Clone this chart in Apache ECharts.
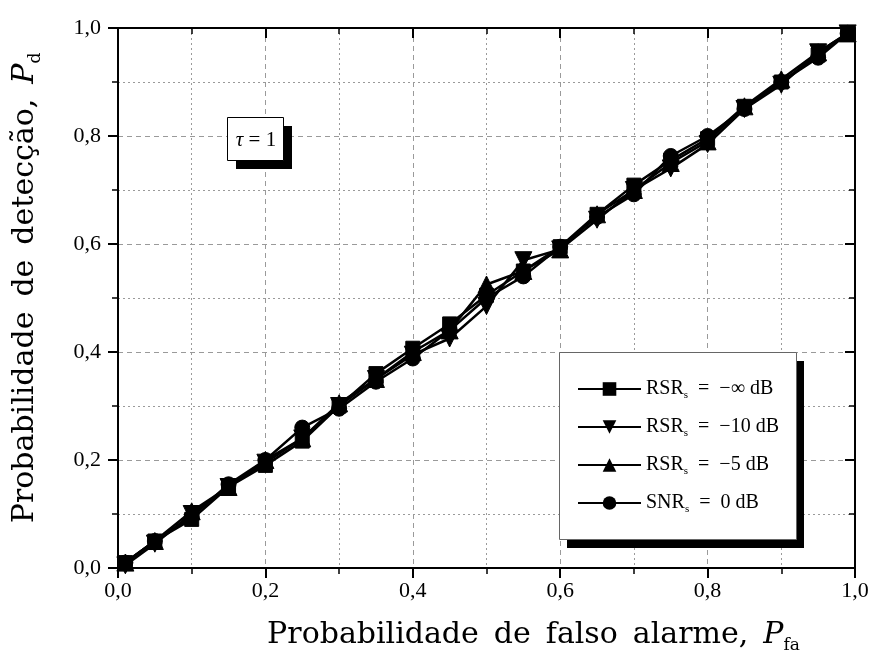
<!DOCTYPE html>
<html><head><meta charset="utf-8">
<script src="https://cdn.jsdelivr.net/npm/echarts@6/dist/echarts.min.js"></script>
<style>html,body{margin:0;padding:0;background:#fff}#c{width:874px;height:659px}</style>
</head><body><div id="c"></div>
<script>
const xValues = [0.01,0.05,0.1,0.15,0.2,0.25,0.3,0.35,0.4,0.45,0.5,0.55,0.6,0.65,0.7,0.75,0.8,0.85,0.9,0.95,0.99];
const rsrInf  = [0.01,0.05,0.09,0.15,0.19,0.235,0.30,0.36,0.407,0.452,0.505,0.55,0.595,0.655,0.709,0.755,0.795,0.855,0.90,0.95,0.99];
const rsr10   = [0.005,0.045,0.10,0.15,0.195,0.24,0.30,0.35,0.395,0.425,0.485,0.57,0.59,0.645,0.70,0.74,0.785,0.85,0.895,0.955,0.99];
const rsr5    = [0.01,0.05,0.105,0.15,0.20,0.24,0.305,0.35,0.40,0.44,0.525,0.55,0.59,0.655,0.70,0.75,0.79,0.855,0.905,0.955,0.99];
const snr0    = [0.01,0.05,0.095,0.155,0.20,0.26,0.295,0.345,0.388,0.44,0.50,0.54,0.595,0.65,0.692,0.763,0.80,0.85,0.90,0.945,0.99];
const seriesNames = ['RSR −∞','RSR −10','RSR −5','SNR 0'];
const SP = '\u2002';
const legendLabels = {
  'RSR −∞':'RSR{s|s}' + SP + '=' + SP + '−∞ dB',
  'RSR −10':'RSR{s|s}' + SP + '=' + SP + '−10 dB',
  'RSR −5':'RSR{s|s}' + SP + '=' + SP + '−5 dB',
  'SNR 0':'SNR{s|s}' + SP + '=' + SP + '0 dB'
};
const xTitle = ['Probabilidade','de','falso','alarme,'].join(SP);
const yTitle = ['Probabilidade','de','detecção,'].join(SP);
const tickFmt = v => v.toFixed(1).replace('.', ',');
const F = 'Liberation Serif';
const FT = 'DejaVu Serif';
const pair = ys => xValues.map((x,i)=>[x,ys[i]]);

const chart = echarts.init(document.getElementById('c'));
const gridLineMajor = {show:true, lineStyle:{color:'#9a9a9a', type:[5,4], width:1}};
const gridLineMinor = {show:true, lineStyle:{color:'#9a9a9a', type:[2,3], width:1}};
const baseAxis = (pos, inside, labels) => ({
  type:'value', min:0, max:1, interval:0.2, position:pos,
  axisLine:{show:true, onZero:false, lineStyle:{color:'#000', width:2}},
  axisTick:{show:true, inside:inside, length:10, lineStyle:{color:'#000', width:2}},
  minorTick:{show:true, splitNumber:2, length:6, lineStyle:{color:'#000', width:1.5}},
  axisLabel:{show:labels, formatter:tickFmt, fontFamily:F, fontSize:22, color:'#000'},
  splitLine:{show:false}, minorSplitLine:{show:false}
});
const titleRich = {
  a:{fontFamily:FT, fontSize:30, color:'#000', lineHeight:38},
  i:{fontFamily:FT, fontSize:30, fontStyle:'italic', color:'#000', lineHeight:38},
  s:{fontFamily:FT, fontSize:17, color:'#000', verticalAlign:'bottom', lineHeight:20}
};
const xb = baseAxis('bottom', false, true);
xb.axisLabel.margin = 12;
xb.splitLine = gridLineMajor; xb.minorSplitLine = gridLineMinor;
xb.name = '{a|' + xTitle + SP + '}{i|P}{s|fa}';
xb.nameLocation = 'middle'; xb.nameGap = 48;
xb.nameTextStyle = {rich:titleRich, padding:[0,0,0,94]};
const xt = baseAxis('top', true, false);
const yl = baseAxis('left', false, true);
yl.axisLabel.margin = 17;
yl.splitLine = gridLineMajor; yl.minorSplitLine = gridLineMinor;
yl.name = '{a|' + yTitle + SP + '}{i|P}{s|d}';
yl.nameLocation = 'middle'; yl.nameGap = 74; yl.nameRotate = 90;
yl.nameTextStyle = {rich:titleRich, padding:[0,0,0,20]};
const yr = baseAxis('right', true, false);

const symbols = [
  {symbol:'rect', size:14, rot:0},
  {symbol:'triangle', size:17, rot:180},
  {symbol:'triangle', size:17, rot:0},
  {symbol:'circle', size:15, rot:0}
];
const datasets = [rsrInf, rsr10, rsr5, snr0];

chart.setOption({
  animation:false,
  backgroundColor:'#fff',
  grid:{left:118, right:19, top:28, bottom:91, containLabel:false},
  xAxis:[xb, xt],
  yAxis:[yl, yr],
  graphic:[
    {type:'rect', z:100, shape:{x:236, y:126, width:56, height:43}, style:{fill:'#000'}},
    {type:'rect', z:101, shape:{x:227.5, y:117.5, width:56, height:43}, style:{fill:'#fff', stroke:'#000', lineWidth:1}},
    {type:'text', z:102, x:256, y:140, style:{
      text:'{t|τ} = 1', align:'center', verticalAlign:'middle',
      font:'21px "Liberation Serif"', fill:'#000',
      rich:{t:{fontFamily:F, fontSize:21, fontStyle:'italic', fill:'#000'}}
    }},
    {type:'rect', z:100, shape:{x:567, y:361, width:237, height:187}, style:{fill:'#000'}},
    {type:'rect', z:101, shape:{x:559.5, y:352.5, width:237, height:187}, style:{fill:'#fff', stroke:'#666', lineWidth:1}}
  ],
  legend:{
    orient:'vertical', left:577, top:377, z:200,
    data:seriesNames,
    padding:0,
    itemGap:14, itemWidth:63, itemHeight:17,
    formatter: n => legendLabels[n],
    textStyle:{fontFamily:F, fontSize:20, color:'#000', lineHeight:24,
      rich:{s:{fontFamily:F, fontSize:11, color:'#000', verticalAlign:'bottom', lineHeight:14}}}
  },
  series: datasets.map((d,i)=>({
    name:seriesNames[i], type:'line', data:pair(d),
    xAxisIndex:0, yAxisIndex:0,
    symbol:symbols[i].symbol, symbolSize:symbols[i].size, symbolRotate:symbols[i].rot,
    showAllSymbol:true,
    lineStyle:{color:'#000', width:2.5},
    itemStyle:{color:'#000', borderColor:'#000'},
    z:3
  }))
});
</script></body></html>
